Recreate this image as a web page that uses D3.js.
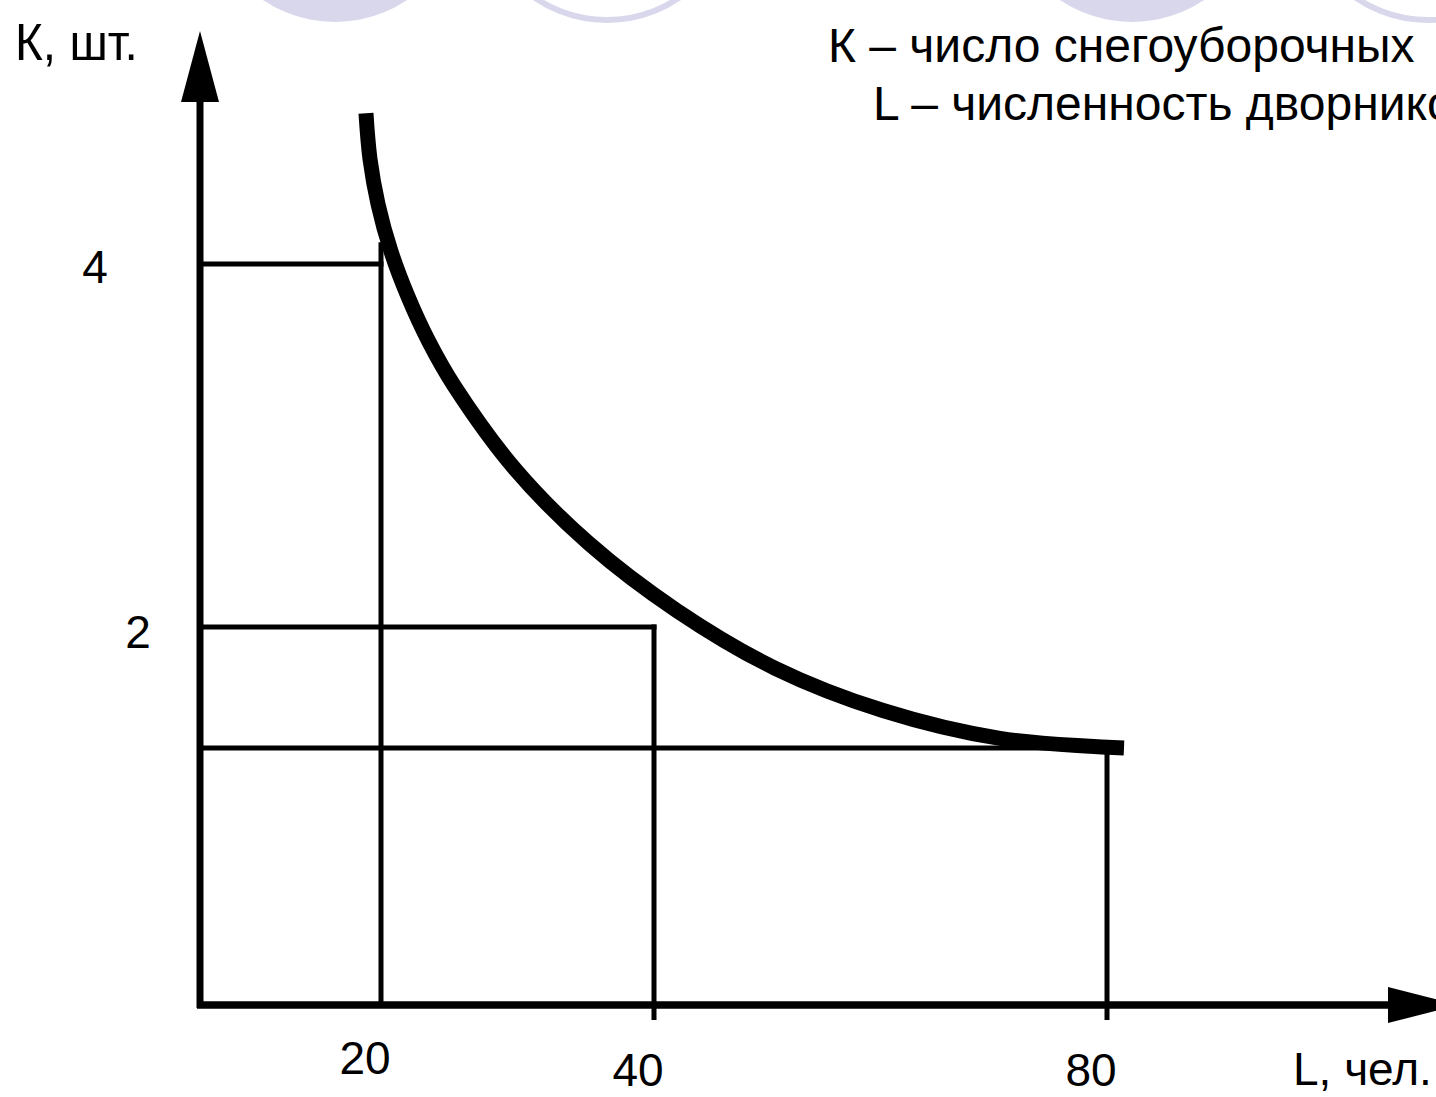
<!DOCTYPE html>
<html><head><meta charset="utf-8">
<script src="https://cdn.jsdelivr.net/npm/d3@7"></script>
<style>html,body{margin:0;padding:0;background:#fff;overflow:hidden}</style>
</head><body>
<svg id="c" width="1436" height="1097"></svg>
<script>
// ---- data ----
const xTickValues = [20, 40, 80];
const xTickLabels = ["20", "40", "80"];
const yTickValues = [4, 2];
const yTickLabels = ["4", "2"];
const guideL = [20, 40, 80];        // workers, L
const guideK = [4, 2, 1];           // machines, K
const curveL = [18.34, 18.78, 19.67, 20.73, 21.98, 23.52, 25.35, 29.82, 35.24, 42.03, 50.68, 60.22, 70.55, 81.5];
const curveK = [4.83, 4.58, 4.33, 4.07, 3.82, 3.57, 3.33, 2.87, 2.46, 2.09, 1.66, 1.31, 1.08, 1.0];
const yAxisTitle = "К, шт.";
const xAxisTitle = "L, чел.";
const legendLines = ["К – число снегоуборочных", "L – численность дворников"];

// ---- scales (schematic, piecewise) ----
const x = d3.scaleLinear().domain([0, 20, 40, 80]).range([200, 381, 654, 1107]);
const y = d3.scaleLinear().domain([0, 1, 2, 4]).range([1005, 748, 627, 264]);

const svg = d3.select("#c");

// decorative circles at top
const deco = svg.append("g");
[[335, true], [607, false], [1132, true], [1428, false]].forEach(([cx, filled]) => {
  deco.append("circle").attr("cx", cx).attr("cy", -108).attr("r", filled ? 130 : 128)
    .attr("fill", filled ? "#d9d7ec" : "none")
    .attr("stroke", filled ? "none" : "#d9d7ec").attr("stroke-width", filled ? 0 : 6);
});

// guide lines
const g = svg.append("g").attr("stroke", "#000").attr("stroke-width", 5).attr("fill", "none");
guideL.forEach((L, i) => {
  const K = guideK[i];
  g.append("line").attr("x1", x(0)).attr("x2", x(L) + 2.5).attr("y1", y(K)).attr("y2", y(K));
});
// vertical at 20: from curve down to axis
g.append("line").attr("x1", x(guideL[0])).attr("x2", x(guideL[0]))
  .attr("y1", y(4.12)).attr("y2", y(0));
// vertical at 40 and 80: from level down below axis (tick)
[1, 2].forEach(i => {
  g.append("line").attr("x1", x(guideL[i])).attr("x2", x(guideL[i]))
    .attr("y1", y(guideK[i]) - 2.5).attr("y2", y(0) + 15);
});

// axes
const ax = svg.append("g");
ax.append("line").attr("x1", x(0)).attr("x2", x(0)).attr("y1", y(0) + 3).attr("y2", 100)
  .attr("stroke", "#000").attr("stroke-width", 7);
ax.append("line").attr("x1", x(0) - 3).attr("x2", 1390).attr("y1", y(0)).attr("y2", y(0))
  .attr("stroke", "#000").attr("stroke-width", 7.5);
ax.append("path").attr("d", `M${x(0)},31 L${x(0) - 19},102 L${x(0) + 19},102 Z`).attr("fill", "#000");
ax.append("path").attr("d", `M1459,${y(0)} L1388,${y(0) - 18} L1388,${y(0) + 18} Z`).attr("fill", "#000");

// curve
const pts = curveL.map((L, i) => [x(L), y(curveK[i])]);
svg.append("path").datum(pts)
  .attr("d", d3.line().curve(d3.curveCatmullRom.alpha(0.5)))
  .attr("fill", "none").attr("stroke", "#000").attr("stroke-width", 15).attr("stroke-linecap", "butt");

// tick labels
const font = "'Liberation Sans', Arial, sans-serif";
const lab = svg.append("g").attr("font-family", font).attr("font-size", 46).attr("fill", "#000");
const xLabDy = [69, 81, 81];
xTickValues.forEach((v, i) => {
  lab.append("text").attr("x", x(v) - 16).attr("y", y(0) + xLabDy[i])
    .attr("text-anchor", "middle").text(xTickLabels[i]);
});
const yLabX = [95, 138];
const yLabDy = [19, 21];
yTickValues.forEach((v, i) => {
  lab.append("text").attr("x", yLabX[i]).attr("y", y(v) + yLabDy[i])
    .attr("text-anchor", "middle").text(yTickLabels[i]);
});
lab.append("text").attr("x", 1293).attr("y", y(0) + 80).text(xAxisTitle);

// y title (narrow face)
svg.append("text").attr("transform", "translate(15,60) scale(0.92,1)")
  .attr("font-family", font)
  .attr("font-size", 52).attr("fill", "#000").text(yAxisTitle);

// legend text (runs past the right edge, as in the source slide)
const leg = svg.append("g").attr("font-family", font).attr("font-size", 48).attr("fill", "#000");
leg.append("text").attr("x", 828).attr("y", 62).text(legendLines[0]);
leg.append("text").attr("x", 873).attr("y", 120).text(legendLines[1]);
</script>
</body></html>
